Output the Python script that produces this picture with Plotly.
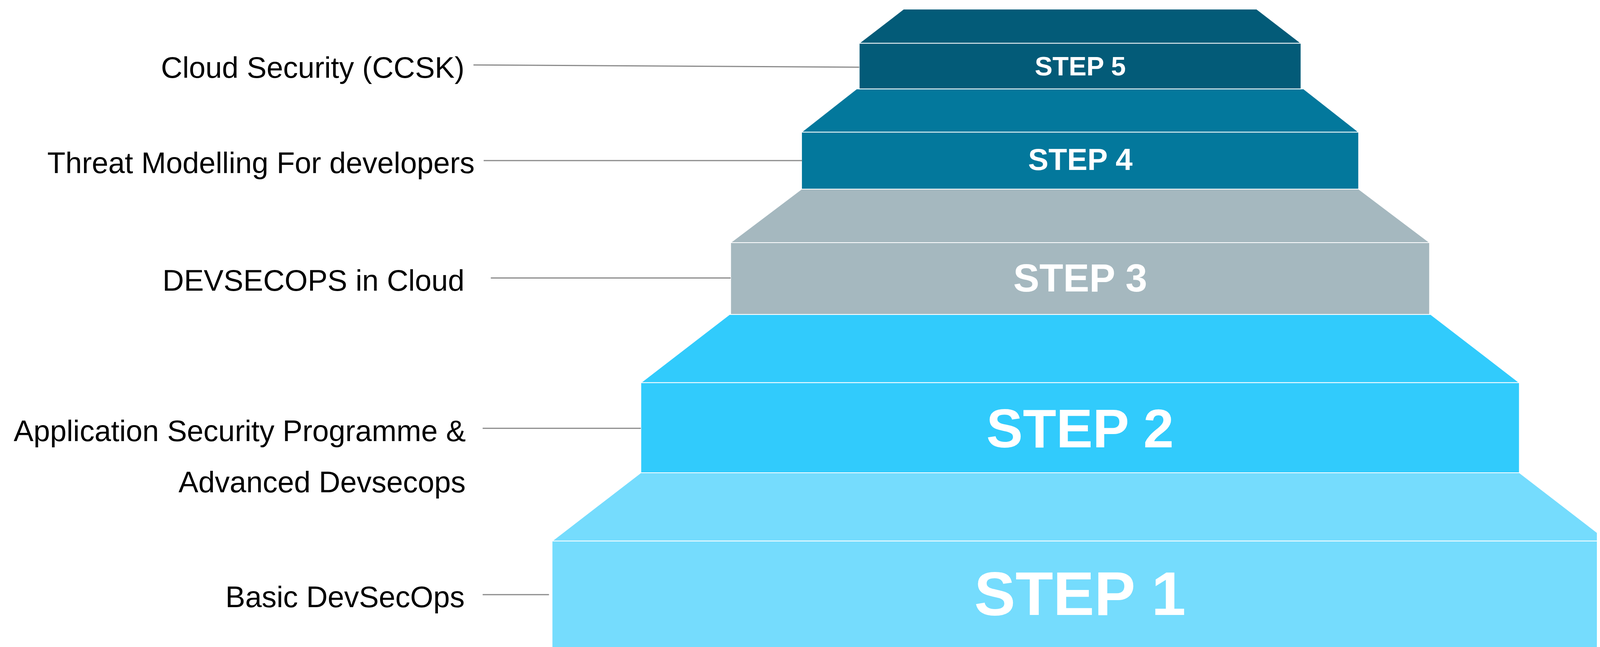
import plotly.graph_objects as go

# ---- data ----
steps = ["STEP 1", "STEP 2", "STEP 3", "STEP 4", "STEP 5"]
descriptions = [
    ["Basic DevSecOps"],
    ["Application Security Programme &", "Advanced Devsecops"],
    ["DEVSECOPS in Cloud"],
    ["Threat Modelling For developers"],
    ["Cloud Security (CCSK)"],
]
colors = ["#75dcfd", "#31cbfc", "#a5b8bf", "#03789c", "#035b78"]

# ---- geometry (reference units, 1568 x 568 canvas) ----
cx = 1058.5
# (trap top y, trap top half-width, trap bottom y, trap bottom half-width, front bottom y)
tiers = [
    (415, 430.5, 475, 517.5, 572),
    (276, 343.5, 336, 430.5, 415),
    (166, 273.0, 213, 342.5, 276),
    (78, 219.0, 116, 273.0, 166),
    (8, 173.0, 38, 216.5, 78),
]
step_font = [158, 140, 100, 78, 68]
step_y = [521, 376, 244, 140, 58]
label_x = [456, 457, 456, 466, 456]
label_y = [[524], [378, 423], [246], [143], [59]]
connectors = [
    ((473, 522), (538, 522)),
    ((473, 376), (628, 376)),
    ((481, 244), (716, 244)),
    ((474, 141), (786, 141)),
    ((464, 57), (842, 59)),
]

# browser viewport is 4096x1656 with an 8px body margin
W, H = 4088, 1648
x0 = 8 / (4096 / 1568)
y0 = 8 / (1656 / 568)

fig = go.Figure()

for i, (yt, wt, yb, wb, yf) in enumerate(tiers):
    fig.add_trace(go.Scatter(
        x=[cx - wt, cx + wt, cx + wb, cx - wb, cx - wt],
        y=[yt, yt, yb, yb, yt],
        fill="toself", fillcolor=colors[i], mode="lines",
        line=dict(color="white", width=2), hoverinfo="skip", showlegend=False))
    fig.add_trace(go.Scatter(
        x=[cx - wb, cx + wb, cx + wb, cx - wb, cx - wb],
        y=[yb, yb, yf, yf, yb],
        fill="toself", fillcolor=colors[i], mode="lines",
        line=dict(color="white", width=2), hoverinfo="skip", showlegend=False))

for (p0, p1) in connectors:
    fig.add_trace(go.Scatter(x=[p0[0], p1[0]], y=[p0[1], p1[1]], mode="lines",
                             line=dict(color="#8a8a8a", width=3),
                             hoverinfo="skip", showlegend=False))

font_family = "Liberation Sans Narrow, Arial Narrow, Liberation Sans, Arial"
for i, s in enumerate(steps):
    fig.add_annotation(x=cx, y=step_y[i], text="<b>%s</b>" % s, showarrow=False,
                       xanchor="center", yanchor="middle",
                       font=dict(family=font_family, size=step_font[i], color="white"))

for i, lines in enumerate(descriptions):
    for line, ly in zip(lines, label_y[i]):
        fig.add_annotation(x=label_x[i], y=ly, text=line, showarrow=False,
                           xanchor="right", yanchor="middle", align="right",
                           font=dict(family=font_family, size=76, color="black"))

fig.update_layout(
    width=W, height=H, margin=dict(l=0, r=0, t=0, b=0),
    plot_bgcolor="white", paper_bgcolor="white",
    xaxis=dict(range=[x0, 1568], visible=False, fixedrange=True),
    yaxis=dict(range=[568, y0], visible=False, fixedrange=True),
)
fig.write_html("out.html")
